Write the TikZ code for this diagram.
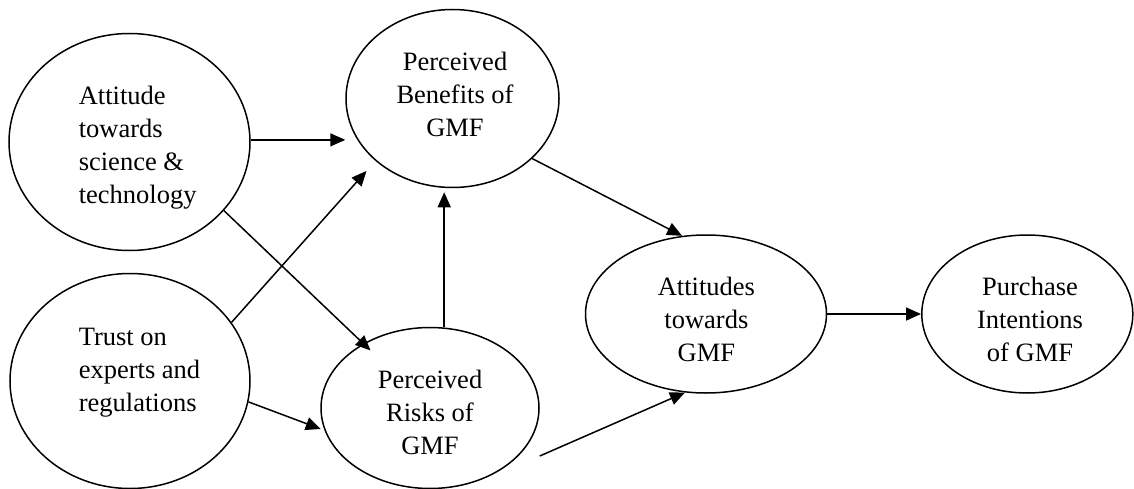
\documentclass[tikz,border=0pt]{standalone}
\usepackage{fontspec}
\setmainfont{Liberation Serif}
\usetikzlibrary{shapes.geometric,arrows.meta}
\begin{document}
\begin{tikzpicture}[x=1pt,y=-1pt,
  ell/.style={ellipse,draw,line width=1.5pt,inner sep=0pt},
  lbl/.style={inner sep=0pt,font=\fontsize{26.5}{33}\selectfont},
  arr/.style={line width=1.5pt,-{Triangle[length=15pt,width=13pt]}}]
\useasboundingbox (0,0) rectangle (1134,489);

% construct ellipses
\node[ell,minimum width=241pt,minimum height=217pt] (e1) at (129.5,142) {};
\node[ell,minimum width=240pt,minimum height=215pt] (e2) at (130,381) {};
\node[ell,minimum width=213pt,minimum height=178pt] (e3) at (452.5,98.5) {};
\node[ell,minimum width=218pt,minimum height=161pt] (e4) at (430,408) {};
\node[ell,minimum width=241pt,minimum height=158pt] (e5) at (706,314) {};
\node[ell,minimum width=211pt,minimum height=158pt] (e6) at (1027.3,314) {};

% labels
\node[lbl,align=left,anchor=north west] (t1) at (78.6,85.6)
  {Attitude\\towards\\science \&\\technology};
\node[lbl,align=left,anchor=north west] (t2) at (78.6,327.9)
  {Trust on\\experts and\\regulations};
\node[lbl,align=center,anchor=north] (t3) at (455,51.5)
  {Perceived\\Benefits of\\GMF};
\node[lbl,align=center,anchor=north] (t4) at (430,370.1)
  {Perceived\\Risks of\\GMF};
\node[lbl,align=center,anchor=north] (t5) at (706.4,276.9)
  {Attitudes\\towards\\GMF};
\node[lbl,align=center,anchor=north] (t6) at (1030,276.9)
  {Purchase\\Intentions\\of GMF};

% paths
\draw[arr] (e1.1.6) -- (e1.1.6 -| e3.west);
\draw[arr,shorten >=13.4pt] (e2.30) -- (e3.219.6);
\draw[arr,shorten >=-10pt] (e1.-36.7) -- (e4.136.3);
\draw[arr,shorten >=4pt] (e4.80.8) -- (e4.80.8 |- e3.south);
\draw[arr,shorten >=4pt] (e2.-10.9) -- (e4.192);
\draw[arr] (e3.-37.6) -- (e5.107.8);
\draw[arr] ([yshift=-48pt]e4.east) -- (e5.255.6);
\draw[arr] (e5.east) -- (e6.west);
\end{tikzpicture}
\end{document}
